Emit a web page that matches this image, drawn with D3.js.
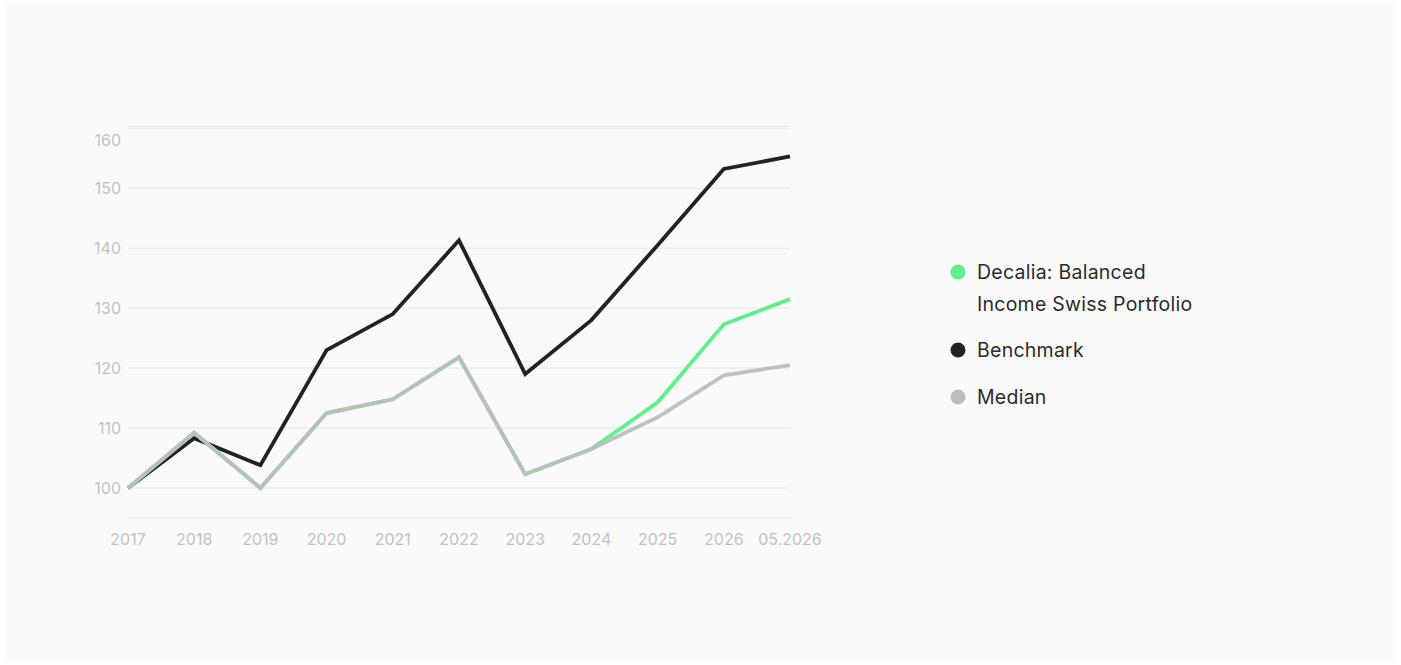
<!DOCTYPE html>
<html><head><meta charset="utf-8">
<script src="https://cdn.jsdelivr.net/npm/d3@7/dist/d3.min.js"></script>
<style>
html,body{margin:0;padding:0;background:#fff;}
svg{display:block;font-family:Inter,"Noto Sans",sans-serif;}
</style></head>
<body><svg id="c" width="1401" height="665"></svg>
<script>
const categories = ["2017","2018","2019","2020","2021","2022","2023","2024","2025","2026","05.2026"];
const decalia   = [100,109.2,100,112.5,114.8,121.8,102.3,106.5,114.3,127.3,131.5];
const benchmark = [100,108.3,103.8,123.0,129.0,141.3,119.0,128.0,140.5,153.2,155.3];
const median    = [100,109.2,100,112.5,114.8,121.8,102.3,106.5,111.8,118.8,120.5];
const yTicks = [100,110,120,130,140,150,160];
const seriesNames = ["Decalia: Balanced\nIncome Swiss Portfolio","Benchmark","Median"];
const colors = ["#5ef08a","#222222","#bdbdbd"];

const svg = d3.select("#c");
svg.append("rect").attr("x",6).attr("y",3).attr("width",1390).attr("height",659).attr("fill","#fafafa");

const x = d3.scalePoint().domain(categories).range([128,790]);
const y = d3.scaleLinear().domain([95,160.2]).range([518,127]);

const g = svg.append("g");
g.selectAll("line.grid").data(yTicks.slice(0,-1).concat([95])).join("line")
  .attr("x1",128).attr("x2",790).attr("y1",d=>y(d)).attr("y2",d=>y(d))
  .attr("stroke","#e6e6e6").attr("stroke-width",1);
g.append("line").attr("x1",128).attr("x2",790).attr("y1",y(160.2)-0.5).attr("y2",y(160.2)-0.5).attr("stroke","#e3e3e3");
g.append("line").attr("x1",128).attr("x2",790).attr("y1",y(160.2)+1.5).attr("y2",y(160.2)+1.5).attr("stroke","#ececec");

g.selectAll("text.yl").data(yTicks).join("text")
  .attr("x",121).attr("y",d=> d===160 ? y(d)+12 : y(d))
  .attr("dy","0.35em").attr("text-anchor","end")
  .attr("fill","#c2c2c2").attr("font-size",16).text(d=>d);

g.selectAll("text.xl").data(categories).join("text")
  .attr("x",d=>x(d)).attr("y",539).attr("dy","0.35em").attr("text-anchor","middle")
  .attr("fill","#c2c2c2").attr("font-size",16).text(d=>d);

const line = d3.line().x((d,i)=>x(categories[i])).y(d=>y(d));
g.append("path").datum(benchmark).attr("d",line).attr("fill","none").attr("stroke",colors[1]).attr("stroke-width",3.8);
g.append("path").datum(decalia).attr("d",line).attr("fill","none").attr("stroke",colors[0]).attr("stroke-width",3.8);
g.append("path").datum(median).attr("d",line).attr("fill","none").attr("stroke",colors[2]).attr("stroke-width",3.8).attr("stroke-opacity",0.94);

const legY = [272,350,397];
seriesNames.forEach((n,i)=>{
  svg.append("circle").attr("cx",958).attr("cy",legY[i]).attr("r",7.5).attr("fill",colors[i]);
  const t = svg.append("text").attr("x",977).attr("y",legY[i]).attr("fill","#2a2a2a").attr("font-size",19.5).attr("letter-spacing","0.25px");
  n.split("\n").forEach((s,j)=>{
    t.append("tspan").attr("x",977).attr("dy", j===0 ? "0.35em" : 32).text(s);
  });
});
</script></body></html>
